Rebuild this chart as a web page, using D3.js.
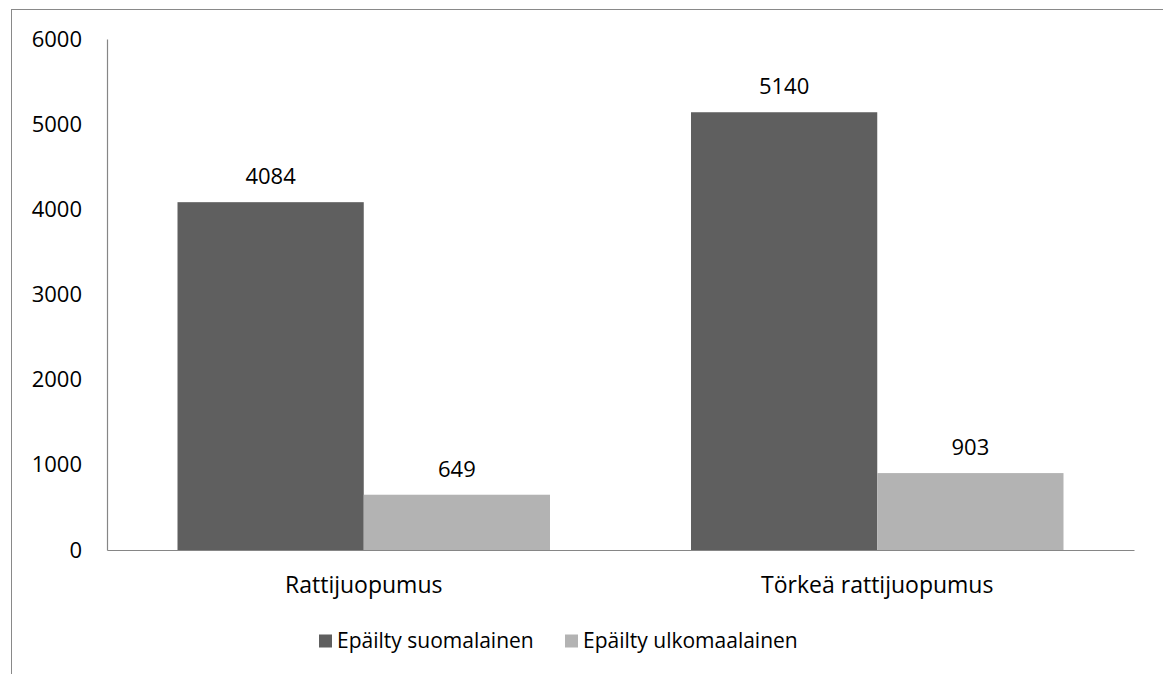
<!DOCTYPE html>
<html>
<head>
<meta charset="utf-8">
<script src="https://cdn.jsdelivr.net/npm/d3@7"></script>
<style>
  html, body { margin: 0; padding: 0; background: #fff; }
  svg text { font-family: "Open Sans", sans-serif; fill: #000; }
</style>
</head>
<body>
<svg id="chart" width="1163" height="674"></svg>
<script>
// Drunk-driving suspects by nationality
const categories = ["Rattijuopumus", "Törkeä rattijuopumus"];
const seriesNames = ["Epäilty suomalainen", "Epäilty ulkomaalainen"];
const finnish = [4084, 5140];
const foreign = [649, 903];
const yTicks = [0, 1000, 2000, 3000, 4000, 5000, 6000];
const colors = ["#5f5f5f", "#b3b3b3"];

const svg = d3.select("#chart");
const W = 1163, H = 674;
const plot = { left: 107, right: 1134, top: 39, bottom: 550 };
const numSize = 22;
const catSize = 23;
const legendSize = 21;

// outer frame
svg.append("rect")
  .attr("x", 11.5).attr("y", 9.5)
  .attr("width", W + 20).attr("height", H + 20)
  .attr("fill", "none").attr("stroke", "#898989").attr("stroke-width", 1);

const x0 = d3.scaleBand().domain(categories).range([plot.left, plot.right]).paddingInner(0).paddingOuter(0);
const groupInner = 0.1373; // gap on each side of the pair within a band
const x1 = d3.scaleBand().domain(seriesNames)
  .range([x0.bandwidth() * groupInner, x0.bandwidth() * (1 - groupInner)]);
const y = d3.scaleLinear().domain([0, 6000]).range([plot.bottom, plot.top]);

// y axis
const yAxis = d3.axisLeft(y).tickValues(yTicks).tickSize(0).tickPadding(25).tickFormat(d3.format("d"));
const gy = svg.append("g").attr("transform", `translate(${plot.left},0)`).call(yAxis);
gy.select(".domain").attr("stroke", "#868686").attr("stroke-width", 1.2);
gy.selectAll("text").style("font-size", numSize + "px").style("font-family", "'Open Sans', sans-serif").attr("fill", "#000");

// bars
const data = categories.map((c, i) => ({ cat: c, vals: [finnish[i], foreign[i]] }));
const groups = svg.append("g").selectAll("g").data(data).join("g")
  .attr("transform", d => `translate(${x0(d.cat)},0)`);
groups.selectAll("rect").data(d => d.vals.map((v, j) => ({ name: seriesNames[j], v, j })))
  .join("rect")
  .attr("x", d => x1(d.name))
  .attr("width", x1.bandwidth())
  .attr("y", d => y(d.v))
  .attr("height", d => y(0) - y(d.v))
  .attr("fill", d => colors[d.j]);
groups.selectAll("text.val").data(d => d.vals.map((v, j) => ({ name: seriesNames[j], v })))
  .join("text").attr("class", "val")
  .attr("x", d => x1(d.name) + x1.bandwidth() / 2)
  .attr("y", d => y(d.v) - 18)
  .attr("text-anchor", "middle")
  .style("font-size", numSize + "px")
  .text(d => d.v);

// x axis
const xAxis = d3.axisBottom(x0).tickSize(0).tickPadding(27);
const gx = svg.append("g").attr("transform", `translate(0,${plot.bottom})`).call(xAxis);
gx.select(".domain").attr("stroke", "#868686").attr("stroke-width", 1.2);
gx.selectAll("text").style("font-size", catSize + "px").style("font-family", "'Open Sans', sans-serif").attr("fill", "#000");

// legend
const legendItems = [{ x: 319, name: seriesNames[0], c: colors[0] }, { x: 565, name: seriesNames[1], c: colors[1] }];
const lg = svg.append("g").selectAll("g").data(legendItems).join("g")
  .attr("transform", d => `translate(${d.x},641)`);
lg.append("rect").attr("x", 0).attr("y", -6.5).attr("width", 13).attr("height", 13).attr("fill", d => d.c);
lg.append("text").attr("x", 18).attr("y", 0).attr("dy", "0.35em")
  .style("font-size", legendSize + "px").text(d => d.name);
</script>
</body>
</html>
